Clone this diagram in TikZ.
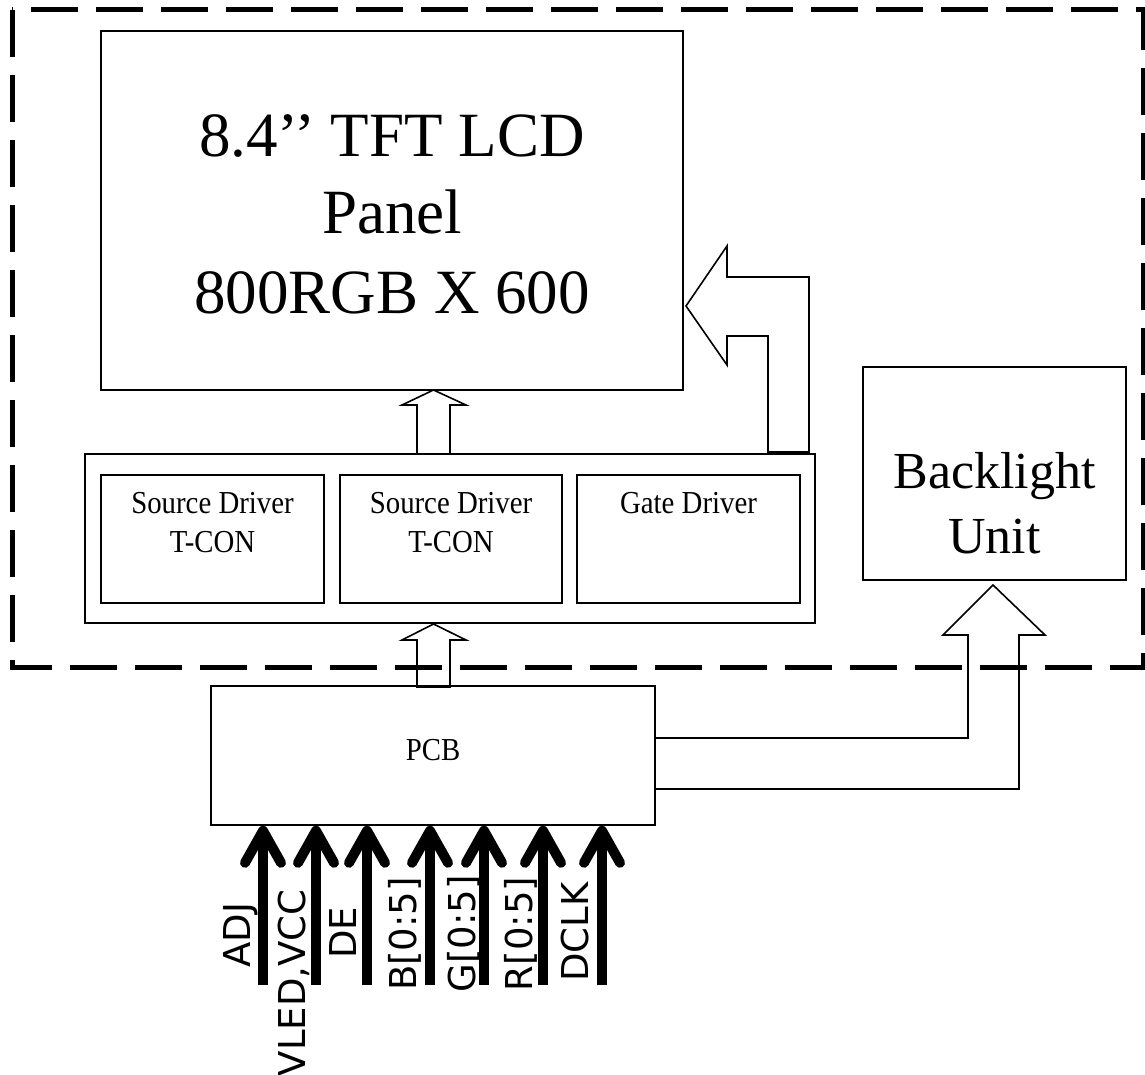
\documentclass[tikz,border=0pt]{standalone}
\usepackage{fontspec}
\setmainfont{Liberation Serif}
\newfontfamily\labelfont{DejaVu Sans}
\usetikzlibrary{arrows.meta}

\begin{document}
\begin{tikzpicture}[x=1pt,y=-1pt,
  box/.style={draw, line width=1.6pt, inner sep=0pt},
  bigtxt/.style={font=\fontsize{63}{75}\selectfont, anchor=base, inner sep=0pt},
  midtxt/.style={font=\fontsize{52}{62}\selectfont, anchor=base, inner sep=0pt},
  smalltxt/.style={font=\fontsize{32}{38}\selectfont, anchor=base, inner sep=0pt, xscale=0.9},
  sig/.style={line width=10pt, -{Straight Barb[length=32pt,width=36pt,round]}},
  siglabel/.style={font=\labelfont\fontsize{37}{44}\selectfont, rotate=90, anchor=base, inner sep=0pt},
  blockarrow/.style={draw, line width=1.6pt, line join=miter},
  frame/.style={line width=5pt, dash pattern=on 47pt off 18pt}
]
\useasboundingbox (0,0) rectangle (1145,1075);

% boxes
\node[box, minimum width=582pt, minimum height=359pt] (panel) at (392,210.5) {};
\node[box, minimum width=730pt, minimum height=169pt] (driver) at (450,538.5) {};
\node[box, minimum width=223pt, minimum height=128pt] (sd1) at (212.5,539) {};
\node[box, minimum width=222pt, minimum height=128pt] (sd2) at (451,539) {};
\node[box, minimum width=223pt, minimum height=128pt] (gd) at (688.5,539) {};
\node[box, minimum width=263pt, minimum height=213pt] (backlight) at (994.5,473.5) {};
\node[box, minimum width=444pt, minimum height=139pt] (pcb) at (433,755.5) {};

% texts
\node[bigtxt] (t1) at (392,157) {8.4’’ TFT LCD};
\node[bigtxt] (t2) at (392,234) {Panel};
\node[bigtxt] (t3) at (392,313) {800RGB X 600};
\node[midtxt] (t4) at (994.5,488) {Backlight};
\node[midtxt] (t5) at (994.5,553) {Unit};
\node[smalltxt] (t6) at (212.5,513) {Source Driver};
\node[smalltxt] (t7) at (212.5,552) {T-CON};
\node[smalltxt] (t8) at (451,513) {Source Driver};
\node[smalltxt] (t9) at (451,552) {T-CON};
\node[smalltxt] (t10) at (688.5,513) {Gate Driver};
\node[smalltxt] (t11) at (433,760) {PCB};

% hollow block arrows
\draw[blockarrow] (417,454) -- (417,405) -- (402,405) -- (433.5,390) -- (466,405) -- (450,405) -- (450,454);
\draw[blockarrow] (417,687) -- (417,640) -- (402,640) -- (433.5,624) -- (466,640) -- (450,640) -- (450,687) -- cycle;
\draw[blockarrow] (768,452) -- (768,336) -- (727,336) -- (727,365) -- (686,306) -- (727,246) -- (727,277) -- (809,277) -- (809,452) -- cycle;
\draw[blockarrow] (655,738) -- (968,738) -- (968,635) -- (943,635) -- (993,585) -- (1045,635) -- (1019,635) -- (1019,789) -- (655,789);

% signal arrows
\foreach \n/\x in {1/263,2/316,3/367,4/430,5/484,6/543,7/602} {
  \coordinate (s\n) at (\x,985);
  \draw[sig] (s\n) -- (s\n |- pcb.south);
}

% signal labels
\node[siglabel] (l1) at (250,935) {ADJ};
\node[siglabel] (l2) at (305,983) {VLED,VCC};
\node[siglabel] (l3) at (356,933) {DE};
\node[siglabel] (l4) at (416,934) {B[0:5]};
\node[siglabel] (l5) at (475,934) {G[0:5]};
\node[siglabel] (l6) at (532,934) {R[0:5]};
\node[siglabel] (l7) at (588,932) {DCLK};

% dashed frame
\draw[frame] (12,10) rectangle (1143,667);
\end{tikzpicture}
\end{document}
